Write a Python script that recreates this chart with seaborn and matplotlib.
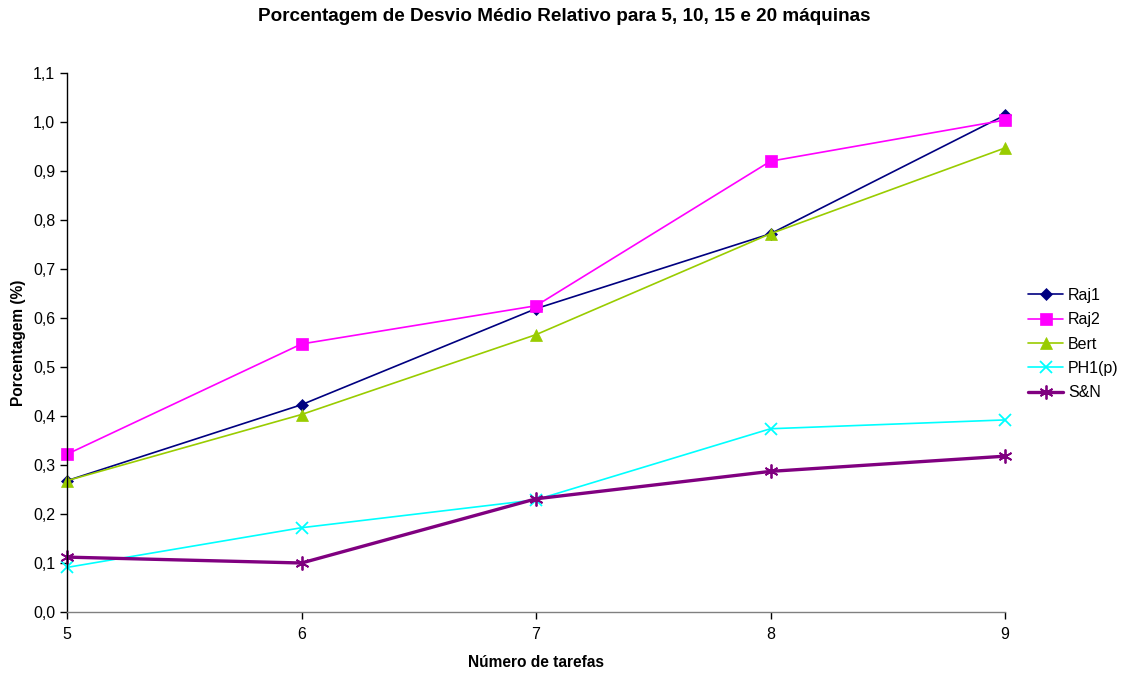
import matplotlib
matplotlib.use("Agg")
import matplotlib.pyplot as plt
import seaborn as sns
import pandas as pd
from matplotlib.ticker import FuncFormatter, MultipleLocator

tarefas = [5, 6, 7, 8, 9]
raj1 = [0.268, 0.423, 0.619, 0.772, 1.014]
raj2 = [0.322, 0.547, 0.625, 0.920, 1.004]
bert = [0.268, 0.403, 0.566, 0.772, 0.947]
ph1p = [0.091, 0.172, 0.229, 0.374, 0.392]
sn = [0.112, 0.100, 0.231, 0.287, 0.318]

series_names = ["Raj1", "Raj2", "Bert", "PH1(p)", "S&N"]
series_values = [raj1, raj2, bert, ph1p, sn]
colors = ["#000080", "#FF00FF", "#99CC00", "#00FFFF", "#800080"]
markers = ["D", "s", "^", "x", (6, 2, 0)]
msizes = [6, 8, 8, 9, 10]
lwidths = [1.2, 1.2, 1.2, 1.2, 2.4]

sns.set_theme(style="white")
plt.rcParams['font.family'] = ['Liberation Sans', 'DejaVu Sans']
plt.rcParams['text.color'] = 'black'
plt.rcParams['axes.labelcolor'] = 'black'
plt.rcParams['xtick.color'] = 'black'
plt.rcParams['ytick.color'] = 'black'

fig = plt.figure(figsize=(11.21, 6.73), dpi=100)
ax = fig.add_axes([67/1121, 1 - 612/673, (1005-67)/1121, (612-73)/673])

for name, vals, c, m, ms, lw in zip(series_names, series_values, colors, markers, msizes, lwidths):
    df = pd.DataFrame({"x": tarefas, "y": vals})
    sns.lineplot(data=df, x="x", y="y", ax=ax, color=c, marker=m, markersize=ms,
                 linewidth=lw, markeredgecolor=c,
                 markeredgewidth=1.3 if m in ("x", (6, 2, 0)) else 0.5,
                 label=name, clip_on=False)

ax.set_xlim(5, 9)
ax.set_ylim(0, 1.1)
ax.set_xticks(tarefas)
ax.yaxis.set_major_locator(MultipleLocator(0.1))
ax.yaxis.set_major_formatter(FuncFormatter(lambda v, p: f"{v:.1f}".replace(".", ",")))
ax.tick_params(axis="both", which="major", direction="out", length=5, width=1, color="black",
               labelsize=11.5, bottom=True, left=True, labelcolor="black")
ax.tick_params(axis="x", pad=6)
for s in ["top", "right"]:
    ax.spines[s].set_visible(False)
ax.spines["left"].set_color("black")
ax.spines["left"].set_linewidth(1)
ax.spines["bottom"].set_color("#808080")
ax.spines["bottom"].set_linewidth(1)
ax.grid(False)

ax.set_xlabel("Número de tarefas", fontsize=11.2, fontweight="bold", labelpad=9, color="black")
ax.set_ylabel("Porcentagem (%)", fontsize=11.2, fontweight="bold", labelpad=5, color="black")
fig.suptitle("Porcentagem de Desvio Médio Relativo para 5, 10, 15 e 20 máquinas",
             fontsize=13.6, fontweight="bold", x=0.503, y=0.988, va="top", color="black")

leg = ax.legend(loc="center left", bbox_to_anchor=(1.018, 0.497), frameon=False,
                fontsize=11.5, handlelength=2.2, handletextpad=0.3, labelspacing=0.58,
                borderaxespad=0)
for t in leg.get_texts():
    t.set_color("black")

fig.savefig("out.png", dpi=100)
